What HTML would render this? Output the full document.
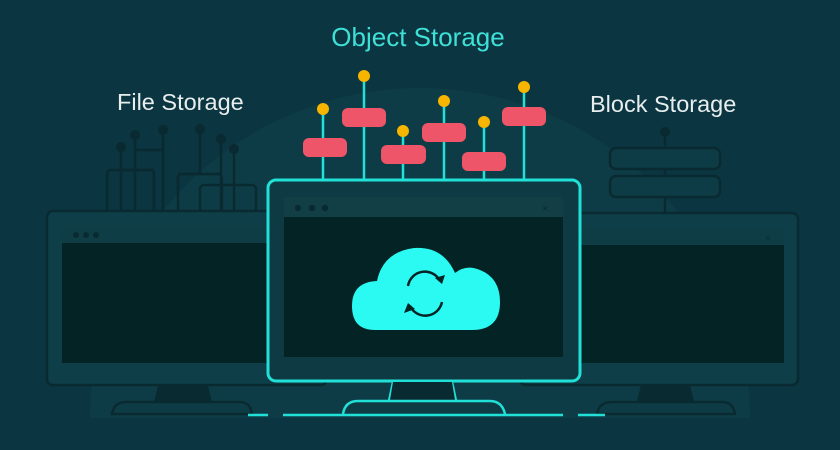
<!DOCTYPE html>
<html><head><style>html,body{margin:0;padding:0;background:#0b3540;}svg{display:block}</style></head><body>
<svg width="840" height="450" viewBox="0 0 840 450" xmlns="http://www.w3.org/2000/svg" font-family="Liberation Sans, sans-serif">
<rect width="840" height="450" fill="#0b3540"/>
<path d="M90 418 A330 330 0 0 1 750 418 Z" fill="#0e3c46"/>
<g stroke="#0a2a31" stroke-width="2.5" fill="none">
<rect x="107" y="170" width="47" height="42" rx="4"/>
<rect x="178" y="174" width="44" height="38" rx="4"/>
<rect x="200" y="185" width="56" height="27" rx="4"/>
<path d="M121 147V212M135 135V212M163 130V212M121 170H154M135 150H163M200 129V174M221 139V212M234 149V212M178 174H221"/>
</g>
<g fill="#0a2a31"><circle cx="121" cy="147" r="5"/><circle cx="135" cy="135" r="5"/><circle cx="163" cy="130" r="5"/><circle cx="200" cy="129" r="5"/><circle cx="221" cy="139" r="5"/><circle cx="234" cy="149" r="5"/><circle cx="665" cy="132" r="5"/></g>
<g stroke="#0a2a31" stroke-width="2.5" fill="none">
<path d="M665 132V213"/>
<rect x="610" y="148" width="110" height="21" rx="6" fill="#0e3c46"/>
<rect x="610" y="176" width="110" height="21" rx="6" fill="#0e3c46"/>
</g>
<rect x="47" y="211" width="280" height="174" rx="6" fill="#0e3f48" stroke="#0a2a31" stroke-width="2.5"/>
<rect x="62" y="226" width="250" height="137" fill="#042325"/>
<rect x="62" y="226" width="250" height="17" fill="#0f3d45"/>
<g fill="#0a2a31"><circle cx="76" cy="235" r="3"/><circle cx="86" cy="235" r="3"/><circle cx="96" cy="235" r="3"/></g>
<path d="M158 386H208L212 402H154Z" fill="#0a2a31"/>
<path d="M112 414Q114 402 126 402H240Q250 402 252 414Z" fill="#0e3c46" stroke="#0a2a31" stroke-width="2.5"/>
<rect x="520" y="213" width="278" height="172" rx="6" fill="#0e3f48" stroke="#0a2a31" stroke-width="2.5"/>
<rect x="540" y="228" width="244" height="135" fill="#042325"/>
<rect x="540" y="228" width="244" height="17" fill="#0f3d45"/>
<text x="765" y="241" fill="#0a2a31" font-size="10">×</text>
<path d="M641 385H690L694 401H637Z" fill="#0a2a31"/>
<path d="M597 414Q599 402 612 402H722Q733 402 735 414Z" fill="#0e3c46" stroke="#0a2a31" stroke-width="2.5"/>
<g stroke="#21e0d8" stroke-width="2.5">
<path d="M323 108V181M364 76V181M403 130V181M444 100V181M484 122V181M524 87V181"/>
</g>
<g fill="#ef5568">
<rect x="303" y="138" width="44" height="19" rx="6"/>
<rect x="342" y="108" width="44" height="19" rx="6"/>
<rect x="381" y="145" width="45" height="19" rx="6"/>
<rect x="422" y="123" width="44" height="19" rx="6"/>
<rect x="462" y="152" width="44" height="19" rx="6"/>
<rect x="502" y="107" width="44" height="19" rx="6"/>
</g>
<g fill="#f7b500">
<circle cx="323" cy="109" r="6"/><circle cx="364" cy="76" r="6"/><circle cx="403" cy="131" r="6"/><circle cx="444" cy="101" r="6"/><circle cx="484" cy="122" r="6"/><circle cx="524" cy="87" r="6"/>
</g>
<rect x="268" y="180" width="312" height="201" rx="8" fill="#0d3a43" stroke="#21e0d8" stroke-width="3"/>
<rect x="284" y="197" width="279" height="160" fill="#042325"/>
<rect x="284" y="197" width="279" height="20" fill="#123f46"/>
<g fill="#0a2a31"><circle cx="298" cy="208" r="3.2"/><circle cx="312" cy="208" r="3.2"/><circle cx="325" cy="208" r="3.2"/></g>
<text x="542" y="212" fill="#0a2a31" font-size="11">×</text>
<path d="M393 382L389 401M452 382L456 401" stroke="#21e0d8" stroke-width="2.5"/>
<path d="M393 382H452L455 400H390Z" fill="#0a2a31"/>
<path d="M343 414Q345 401 358 401H490Q502 401 505 414" fill="none" stroke="#21e0d8" stroke-width="2.5"/>
<path d="M248 415H268M283 415H563M578 415H605" stroke="#21e0d8" stroke-width="2.5"/>
<path d="M375 330Q352 330 352 306Q352 282 377 281Q383 252 414 248Q443 246 455 273Q466 264 480 270Q500 278 500 302Q500 330 472 330Z" fill="#2afaf2"/>
<g fill="none" stroke="#042325" stroke-width="2.5">
<path d="M408 286A17 17 0 0 1 440 281"/>
<path d="M442 302A17 17 0 0 1 410 306"/>
</g>
<path d="M435 278L442 284L445 275Z M415 309L408 303L404 313Z" fill="#042325"/>
<text x="418" y="46" text-anchor="middle" fill="#3ee0d8" font-size="26">Object Storage</text>
<text x="117" y="110" fill="#e8eeee" font-size="23.5">File Storage</text>
<text x="590" y="112" fill="#e8eeee" font-size="23.5">Block Storage</text>
</svg>
</body></html>
